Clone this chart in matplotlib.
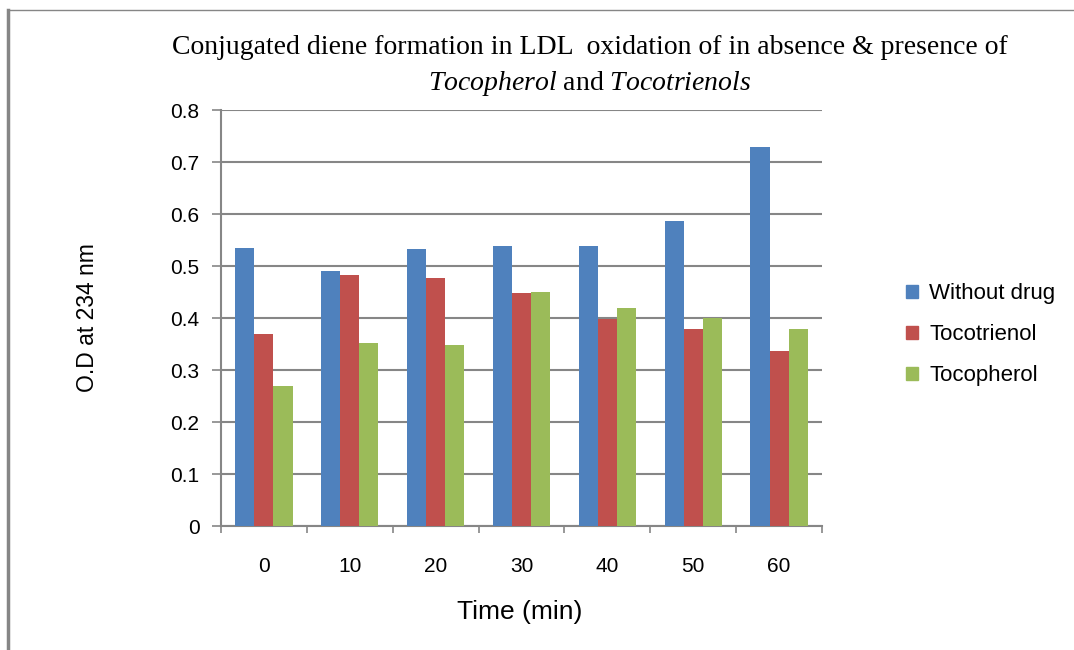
import numpy as np
import matplotlib.pyplot as plt
from matplotlib.lines import Line2D
from matplotlib.patches import Patch

plt.rcParams['mathtext.fontset'] = 'custom'
plt.rcParams['mathtext.rm'] = 'Liberation Serif'
plt.rcParams['mathtext.it'] = 'Liberation Serif:italic'

times = ["0", "10", "20", "30", "40", "50", "60"]
without_drug = [0.535, 0.490, 0.533, 0.538, 0.538, 0.587, 0.729]
tocotrienol = [0.369, 0.483, 0.477, 0.449, 0.398, 0.379, 0.337]
tocopherol = [0.269, 0.352, 0.348, 0.450, 0.419, 0.400, 0.379]
series_names = ["Without drug", "Tocotrienol", "Tocopherol"]
colors = ["#4f81bd", "#c0504d", "#9bbb59"]

grey = "#868686"
sans = "Liberation Sans"
serif = "Liberation Serif"

fig = plt.figure(figsize=(10.74, 6.5), dpi=100)
ax = fig.add_axes([221/1074, 1-526/650, 601/1074, (526-110.3)/650])

x = np.arange(len(times))
w = 0.222
for k, vals in enumerate([without_drug, tocotrienol, tocopherol]):
    ax.bar(x + (k-1)*w, vals, width=w, color=colors[k], zorder=3)

ax.set_xlim(-0.5, len(times)-0.5)
ax.set_ylim(0, 0.8)
ax.set_yticks(np.arange(0, 0.81, 0.1))
ax.set_yticklabels(["0"] + ["%.1f" % v for v in np.arange(0.1, 0.81, 0.1)],
                   fontsize=15, family=sans)
ax.yaxis.grid(True, color=grey, linewidth=1.5, zorder=0)
ax.tick_params(axis='y', length=6.5, width=1.2, color=grey, pad=9)

ax.set_xticks(x)
ax.set_xticklabels(times, fontsize=15, family=sans)
ax.set_xticks(np.arange(-0.5, len(times)), minor=True)
ax.tick_params(axis='x', which='major', length=0, pad=22)
ax.tick_params(axis='x', which='minor', length=5, width=1.2, color=grey)

for s in ['top', 'right']:
    ax.spines[s].set_visible(False)
for s in ['left', 'bottom']:
    ax.spines[s].set_color(grey)
    ax.spines[s].set_linewidth(1.5)

fig.text(520/1074, 1-612/650, "Time (min)", fontsize=19, family=sans,
         ha='center', va='center')
fig.text(88/1074, 1-318/650, "O.D at 234 nm", rotation=90, fontsize=16.5,
         family=sans, ha='center', va='center')

fig.text(590/1074, 1-48/650,
         "Conjugated diene formation in LDL  oxidation of in absence & presence of",
         fontsize=20, family=serif, ha='center', va='center')
fig.text(590/1074, 1-83/650, r"$\mathit{Tocopherol}$ and $\mathit{Tocotrienols}$",
         fontsize=20, family=serif, ha='center', va='center')

handles = [Patch(color=c) for c in colors]
fig.legend(handles, series_names, loc='center left',
           bbox_to_anchor=(886/1074, 1-335/650), frameon=False,
           prop={'family': sans, 'size': 16}, handlelength=0.55, handleheight=0.55,
           labelspacing=0.9, handletextpad=0.5)

# chart border (left and top)
fig.add_artist(Line2D([8/1074, 8/1074], [0, 1-10/650], color=grey, linewidth=2.5))
fig.add_artist(Line2D([8/1074, 1], [1-10/650, 1-10/650], color=grey, linewidth=1))

fig.savefig("out.png", dpi=100)
